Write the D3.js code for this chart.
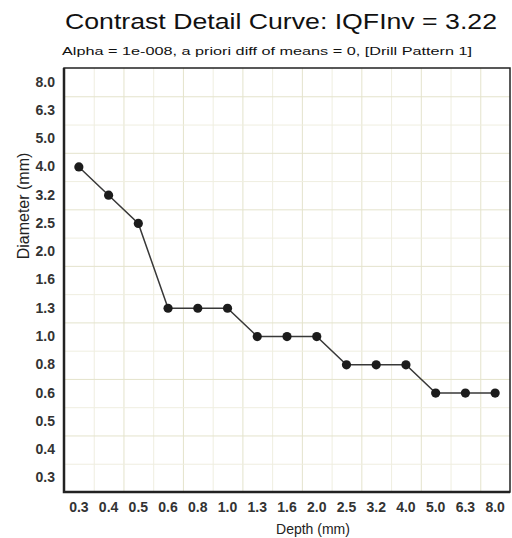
<!DOCTYPE html>
<html>
<head>
<meta charset="utf-8">
<script src="https://cdn.jsdelivr.net/npm/d3@7"></script>
<style>
  body { margin: 0; background: #fff; }
  text { font-family: "Liberation Sans", Arial, sans-serif; }
</style>
</head>
<body>
<script>
// depth categories along x, diameter categories along y (same contrast-detail steps)
const depthLabels = ['0.3', '0.4', '0.5', '0.6', '0.8', '1.0', '1.3', '1.6', '2.0', '2.5', '3.2', '4.0', '5.0', '6.3', '8.0']
const diameterLabels = ['0.3', '0.4', '0.5', '0.6', '0.8', '1.0', '1.3', '1.6', '2.0', '2.5', '3.2', '4.0', '5.0', '6.3', '8.0']
// threshold diameter found for each depth
const diameterValues = ['4.0', '3.2', '2.5', '1.3', '1.3', '1.3', '1.0', '1.0', '1.0', '0.8', '0.8', '0.8', '0.6', '0.6', '0.6']

const titleText = 'Contrast Detail Curve: IQFInv = 3.22'
const subtitleText = 'Alpha = 1e-008, a priori diff of means = 0, [Drill Pattern 1]'

const plotLeft = 64, plotRight = 510, plotTop = 68, plotBottom = 492

const x = d3.scaleBand()
    .domain(depthLabels)
    .range([plotLeft, plotRight])
    .padding(0)

const y = d3.scaleBand()
    .domain(diameterLabels.slice().reverse())
    .range([plotTop, plotBottom])
    .padding(0)

const svg = d3.select('body').append('svg')
    .attr('width', 512)
    .attr('height', 538)

// grid at band boundaries
svg.append('g').selectAll('line')
    .data(depthLabels.slice(1))
    .enter().append('line')
        .attr('x1', d => x(d) + 0.5)
        .attr('x2', d => x(d) + 0.5)
        .attr('y1', plotTop)
        .attr('y2', plotBottom)
        .attr('stroke', (d, i) => i % 2 ? '#e4e3cc' : '#efeee0')
        .attr('stroke-width', 1)

svg.append('g').selectAll('line')
    .data(diameterLabels.slice(0, -1))
    .enter().append('line')
        .attr('y1', d => y(d) + 0.5)
        .attr('y2', d => y(d) + 0.5)
        .attr('x1', plotLeft)
        .attr('x2', plotRight)
        .attr('stroke', (d, i) => i % 2 ? '#e4e3cc' : '#efeee0')
        .attr('stroke-width', 1)

// frame
svg.append('rect')
    .attr('x', plotLeft)
    .attr('y', plotTop)
    .attr('width', plotRight - plotLeft)
    .attr('height', plotBottom - plotTop)
    .attr('fill', 'none')
    .attr('stroke', '#222')
    .attr('stroke-width', 1.5)

svg.append('path')
    .attr('d', `M${plotLeft},${plotTop}V${plotBottom}H${plotRight}`)
    .attr('fill', 'none')
    .attr('stroke', '#222')
    .attr('stroke-width', 2.5)

// axes (labels only, no tick marks)
const xAxis = d3.axisBottom(x).tickSize(0).tickPadding(10)
const yAxis = d3.axisLeft(y).tickSize(0).tickPadding(9)

const gx = svg.append('g')
    .attr('transform', `translate(0,${plotBottom})`)
    .call(xAxis)
gx.select('.domain').remove()

const gy = svg.append('g')
    .attr('transform', `translate(${plotLeft},0)`)
    .call(yAxis)
gy.select('.domain').remove()

svg.selectAll('.tick text')
    .attr('font-family', '"Liberation Sans", Arial, sans-serif')
    .attr('font-size', 14)
    .attr('font-weight', 'bold')
    .attr('fill', '#333')

// curve
const points = depthLabels.map((d, i) => [d, diameterValues[i]])

svg.append('path')
    .datum(points)
    .attr('fill', 'none')
    .attr('stroke', '#383838')
    .attr('stroke-width', 1.5)
    .attr('d', d3.line()
        .x(d => x(d[0]) + x.bandwidth() / 2)
        .y(d => y(d[1]) + y.bandwidth() / 2))

svg.selectAll('circle.pt')
    .data(points)
    .enter().append('circle')
        .attr('class', 'pt')
        .attr('cx', d => x(d[0]) + x.bandwidth() / 2)
        .attr('cy', d => y(d[1]) + y.bandwidth() / 2)
        .attr('r', 4.6)
        .attr('fill', '#1c1c1c')

// titles
svg.append('text')
    .attr('x', 65)
    .attr('y', 29)
    .attr('font-size', 22)
    .attr('fill', '#111')
    .attr('textLength', 432)
    .attr('lengthAdjust', 'spacingAndGlyphs')
    .text(titleText)

svg.append('text')
    .attr('x', 62)
    .attr('y', 55)
    .attr('font-size', 11.5)
    .attr('fill', '#111')
    .attr('textLength', 410)
    .attr('lengthAdjust', 'spacingAndGlyphs')
    .text(subtitleText)

svg.append('text')
    .attr('transform', 'translate(29,206) rotate(-90)')
    .attr('text-anchor', 'middle')
    .attr('font-size', 16)
    .attr('fill', '#222')
    .text('Diameter (mm)')

svg.append('text')
    .attr('x', 313)
    .attr('y', 534)
    .attr('text-anchor', 'middle')
    .attr('font-size', 14)
    .attr('fill', '#222')
    .text('Depth (mm)')
</script>
</body>
</html>
